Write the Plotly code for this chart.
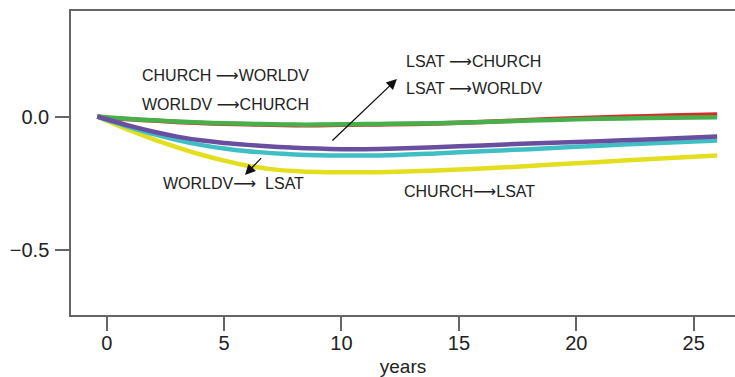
import plotly.graph_objects as go

# Time grid (years) and cross-lagged effect trajectories
years = [-0.4, 0, 1, 2, 3, 4, 5, 6, 7, 8, 9, 10, 11, 12, 14, 16, 18, 20, 22, 24, 26]

church_to_worldv = [0, -0.004, -0.010, -0.015, -0.020, -0.024, -0.027, -0.029, -0.031, -0.032,
                    -0.032, -0.031, -0.030, -0.029, -0.026, -0.020, -0.013, -0.006, -0.001, 0.004, 0.008]
worldv_to_church = [0, -0.003, -0.009, -0.014, -0.018, -0.022, -0.025, -0.027, -0.029, -0.030,
                    -0.030, -0.029, -0.028, -0.027, -0.025, -0.020, -0.015, -0.010, -0.007, -0.004, -0.002]
lsat_to_church = [0, -0.010, -0.035, -0.057, -0.075, -0.089, -0.099, -0.106, -0.112, -0.117,
                  -0.120, -0.122, -0.122, -0.121, -0.115, -0.108, -0.101, -0.095, -0.089, -0.082, -0.075]
lsat_to_worldv = [0, -0.012, -0.040, -0.066, -0.088, -0.106, -0.120, -0.130, -0.137, -0.142,
                  -0.145, -0.146, -0.146, -0.145, -0.138, -0.130, -0.122, -0.113, -0.105, -0.097, -0.090]
church_to_lsat = [0, -0.015, -0.052, -0.085, -0.115, -0.142, -0.165, -0.184, -0.197, -0.204,
                  -0.208, -0.209, -0.209, -0.208, -0.202, -0.195, -0.185, -0.175, -0.165, -0.155, -0.146]

x_ticks = [0, 5, 10, 15, 20, 25]
y_ticks = [0, -0.5]
y_ticktext = ["0.0", "\u22120.5"]

FONT = "Liberation Sans, Arial, Helvetica, DejaVu Sans, sans-serif"
TEXT = "#222222"
AXIS = "#666666"

fig = go.Figure()

series = [
    (church_to_lsat, "#E3DE1E", 4.5),
    (lsat_to_worldv, "#3FBFC4", 4.5),
    (church_to_worldv, "#DA2B2B", 4.5),
    (worldv_to_church, "#48B04B", 4.5),
    (lsat_to_church, "#6A4FA0", 4.5),
]
for ys, color, w in series:
    fig.add_trace(go.Scatter(x=years, y=ys, mode="lines",
                             line=dict(color=color, width=w, shape="spline", smoothing=0.8),
                             showlegend=False, hoverinfo="skip"))

labels = [
    ("CHURCH \u27f6WORLDV", 5.08, 0.153),
    ("WORLDV \u27f6CHURCH", 5.04, 0.0465),
    ("LSAT \u27f6CHURCH", 15.64, 0.206),
    ("LSAT \u27f6WORLDV", 15.64, 0.104),
    ("WORLDV\u27f6  LSAT", 5.38, -0.250),
    ("CHURCH\u27f6LSAT", 15.44, -0.281),
]
for txt, x, y in labels:
    fig.add_annotation(x=x, y=y, text=txt, showarrow=False,
                       font=dict(family=FONT, size=16, color=TEXT),
                       xanchor="center", yanchor="middle")

# pointer arrows from the label groups to the curves
arrows = [
    (9.55, -0.095, 12.36, 0.141),
    (6.64, -0.150, 5.89, -0.219),
]
for x0, y0, x1, y1 in arrows:
    fig.add_annotation(x=x1, y=y1, ax=x0, ay=y0, xref="x", yref="y",
                       axref="x", ayref="y", text="", showarrow=True,
                       arrowhead=2, arrowsize=1.6, arrowwidth=1.3,
                       arrowcolor="#111111", standoff=0, startstandoff=0)

fig.update_layout(
    width=735, height=377,
    margin=dict(l=71, r=0, t=11, b=62),
    plot_bgcolor="white", paper_bgcolor="white",
    font=dict(family=FONT, color=TEXT),
    xaxis=dict(range=[-1.52, 26.76], tickvals=x_ticks, showgrid=False, zeroline=False,
               showline=True, linecolor=AXIS, linewidth=1.5, mirror=True,
               ticks="outside", ticklen=14, tickwidth=1.5, tickcolor=AXIS,
               tickfont=dict(size=20, color=TEXT), ticklabelstandoff=-5,
               title=dict(text="years", font=dict(size=19, color=TEXT), standoff=9)),
    yaxis=dict(range=[-0.744, 0.396], tickvals=y_ticks, ticktext=y_ticktext,
               showgrid=False, zeroline=False,
               showline=True, linecolor=AXIS, linewidth=1.5, mirror=False,
               ticks="outside", ticklen=14, tickwidth=1.5, tickcolor=AXIS,
               tickfont=dict(size=20, color=TEXT), ticklabelstandoff=2),
)

fig.write_html("out.html")
